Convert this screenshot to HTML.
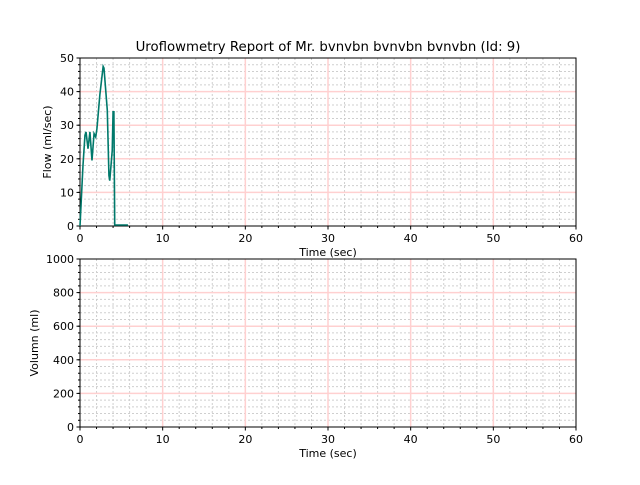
<!DOCTYPE html>
<html><head><meta charset="utf-8"><style>
body{margin:0;background:#fff}
svg text{font-family:"DejaVu Sans","Liberation Sans",sans-serif;font-size:11px;fill:#000}
</style></head><body>
<svg id="c" width="640" height="480"></svg>
<script>
const flowTimes=[0,0.36,0.6,0.73,0.97,1.2,1.45,1.7,1.9,2.05,2.4,2.8,2.9,3.3,3.5,3.6,3.9,4.0,4.1,4.2,5.8];
const flowValues=[0,18,27,28,23,28,19.5,27.5,26.5,29,39,47.5,47,34.5,15,13.5,22.5,34,34,0.3,0.3];
const xTicks=[0,10,20,30,40,50,60];
const flowTicks=[0,10,20,30,40,50];
const volTicks=[0,200,400,600,800,1000];
const NS='http://www.w3.org/2000/svg';
const svg=document.getElementById('c');
function el(t,a,p){const e=document.createElementNS(NS,t);for(const k in a)e.setAttribute(k,a[k]);(p||svg).appendChild(e);return e;}
const L=80,R=576;
function xs(v){return L+(v/60)*(R-L);}
function panel(top,bot,ymax,yticks,ylabel,name){
  const g=el('g',{});
  
  
  const ys=v=>bot-(v/ymax)*(bot-top);
  const ymin=ymax/25;
  for(let v=ymin;v<ymax;v+=ymin){if(Math.abs(v/(ymax/5)-Math.round(v/(ymax/5)))<1e-6)continue;
    el('line',{x1:L,x2:R,y1:ys(v),y2:ys(v),stroke:'#cfcfcf','stroke-dasharray':'2,2','stroke-width':1},g);}
  for(let v=2;v<60;v+=2){if(v%10===0)continue;
    el('line',{x1:xs(v),x2:xs(v),y1:top,y2:bot,stroke:'#cfcfcf','stroke-dasharray':'2,2','stroke-width':1},g);}
  yticks.forEach(v=>{if(v>0&&v<ymax)el('line',{x1:L,x2:R,y1:ys(v),y2:ys(v),stroke:'#ffd0d0','stroke-width':1.5},g);});
  xTicks.forEach(v=>{if(v>0&&v<60)el('line',{x1:xs(v),x2:xs(v),y1:top,y2:bot,stroke:'#ffd0d0','stroke-width':1.5},g);});
  el('rect',{x:L,y:top,width:R-L,height:bot-top,fill:'none',stroke:'#000','stroke-width':1},g);
  xTicks.forEach(v=>{el('line',{x1:xs(v),x2:xs(v),y1:bot,y2:bot+3.5,stroke:'#000'},g);
    const t=el('text',{x:xs(v),y:bot+16,'text-anchor':'middle'},g);t.textContent=v;});
  for(let v=2;v<60;v+=2){if(v%10)el('line',{x1:xs(v),x2:xs(v),y1:bot,y2:bot+2,stroke:'#000'},g);}
  yticks.forEach(v=>{el('line',{x1:L-3.5,x2:L,y1:ys(v),y2:ys(v),stroke:'#000'},g);
    const t=el('text',{x:L-6,y:ys(v)+4,'text-anchor':'end'},g);t.textContent=v;});
  for(let v=ymin;v<ymax;v+=ymin)el('line',{x1:L-2,x2:L,y1:ys(v),y2:ys(v),stroke:'#000'},g);
  const xl=el('text',{x:(L+R)/2,y:bot+30,'text-anchor':'middle'},g);xl.textContent='Time (sec)';
  
  const yl=el('text',{x:0,y:0,'text-anchor':'middle',transform:`translate(${name==='flow-panel'?51:38},${(top+bot)/2}) rotate(-90)`},g);yl.textContent=ylabel;
  
  return ys;
}
const fy=panel(58,226,50,flowTicks,'Flow (ml/sec)','flow-panel');
panel(259,427,1000,volTicks,'Volumn (ml)','volume-panel');
const line=el('polyline',{points:flowTimes.map((t,i)=>xs(t)+','+fy(flowValues[i])).join(' '),fill:'none',stroke:'#00796b','stroke-width':1.6});


const title=el('text',{x:328,y:51,'text-anchor':'middle'});
title.setAttribute('style','font-size:13.3px');
title.textContent='Uroflowmetry Report of Mr. bvnvbn bvnvbn bvnvbn (Id: 9)';


</script>
</body></html>
